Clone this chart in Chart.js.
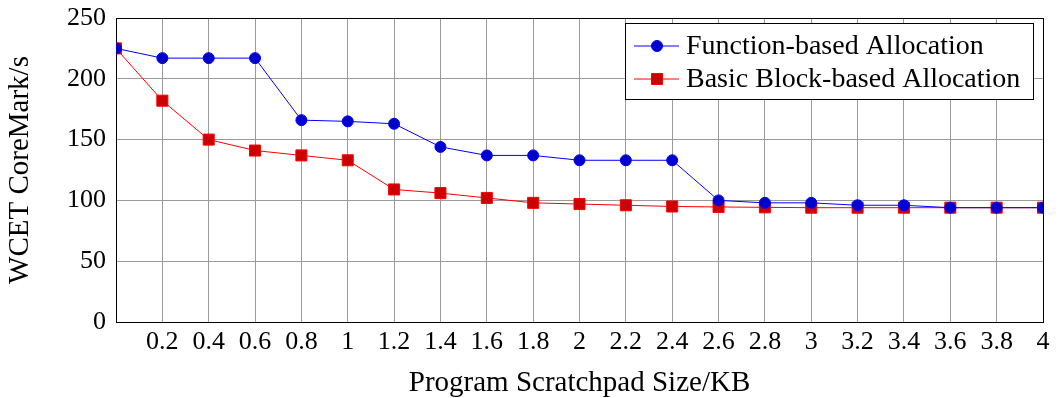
<!DOCTYPE html>
<html>
<head>
<meta charset="utf-8">
<script src="https://cdn.jsdelivr.net/npm/chart.js@4.4.1/dist/chart.umd.min.js"></script>
<style>
    body { margin: 0; background: #ffffff; }
</style>
</head>
<body>
<canvas id="wcetChart" width="1058" height="398"></canvas>
<script>
const sizes = [0, 0.2, 0.4, 0.6, 0.8, 1, 1.2, 1.4, 1.6, 1.8, 2, 2.2, 2.4, 2.6, 2.8, 3, 3.2, 3.4, 3.6, 3.8, 4];
const functionBased = [225, 217, 217, 217, 166, 165, 163, 144, 137, 137, 133, 133, 133, 100, 98, 98, 96, 96, 94, 94, 94];
const basicBlockBased = [225, 182, 150, 141, 137, 133, 109, 106, 102, 98, 97, 96, 95, 94.6, 94.3, 94, 94, 94, 94, 94, 94];
const seriesNames = ["Function-based Allocation", "Basic Block-based Allocation"];
const xTitle = "Program Scratchpad Size/KB";
const yTitle = "WCET CoreMark/s";

const serif = "'Liberation Serif', 'DejaVu Serif', serif";

function toPoints(values) {
    return values.map((v, i) => ({ x: sizes[i], y: v }));
}

// pgfplots style legend, drawn inside the top right corner of the axis
const insideLegend = {
    id: "insideLegend",
    afterDraw(chart) {
        const ctx = chart.ctx;
        const area = chart.chartArea;
        const boxW = 408, boxH = 76;
        const left = area.right - 10 - boxW;
        const top = area.top + 5;

        ctx.save();
        ctx.fillStyle = "#ffffff";
        ctx.fillRect(left, top, boxW, boxH);
        ctx.strokeStyle = "#000000";
        ctx.lineWidth = 1;
        ctx.strokeRect(left + 0.5, top + 0.5, boxW, boxH);

        chart.data.datasets.forEach((ds, i) => {
            const y = top + 23 + i * 33;
            ctx.strokeStyle = ds.borderColor;
            ctx.lineWidth = 1;
            ctx.beginPath();
            ctx.moveTo(left + 9, y);
            ctx.lineTo(left + 54, y);
            ctx.stroke();

            ctx.fillStyle = ds.pointBackgroundColor;
            ctx.strokeStyle = ds.pointBorderColor;
            Chart.helpers.drawPoint(ctx, {
                pointStyle: ds.pointStyle,
                radius: ds.pointRadius,
                borderWidth: 1
            }, left + 32, y);

            ctx.fillStyle = "#000000";
            ctx.font = "28px " + serif;
            ctx.textBaseline = "middle";
            ctx.fillText(ds.label, left + 61, y + 1);
        });
        ctx.restore();
    }
};

// full box around the plot area
const axisBox = {
    id: "axisBox",
    beforeDatasetsDraw(chart) {
        const a = chart.chartArea;
        const ctx = chart.ctx;
        ctx.save();
        ctx.strokeStyle = "#000000";
        ctx.lineWidth = 1;
        ctx.strokeRect(a.left + 0.5, a.top + 0.5, a.right - a.left, a.bottom - a.top);
        ctx.restore();
    }
};

const wcetChart = document.getElementById("wcetChart");

new Chart(wcetChart, {
    type: "line",
    data: {
        datasets: [{
            label: seriesNames[0],
            data: toPoints(functionBased),
            borderColor: "#0000ff",
            borderWidth: 1,
            pointStyle: "circle",
            pointRadius: 5.5,
            pointBackgroundColor: "#0000cc",
            pointBorderColor: "#0000ff",
            pointBorderWidth: 1
        }, {
            label: seriesNames[1],
            data: toPoints(basicBlockBased),
            borderColor: "#ff0000",
            borderWidth: 1,
            pointStyle: "rect",
            pointRadius: 7.8,
            pointBackgroundColor: "#cc0000",
            pointBorderColor: "#ff0000",
            pointBorderWidth: 1
        }]
    },
    options: {
        responsive: false,
        animation: false,
        layout: { padding: { top: 18, right: 15, left: 0, bottom: 0 } },
        plugins: {
            legend: { display: false },
            tooltip: { enabled: false }
        },
        scales: {
            x: {
                type: "linear",
                min: 0,
                max: 4,
                ticks: {
                    stepSize: 0.2,
                    color: "#000000",
                    font: { family: serif, size: 26 },
                    padding: 5,
                    maxRotation: 0,
                    autoSkip: false,
                    callback: (v) => (Math.abs(v) < 1e-9 ? "" : String(Number(v.toFixed(1))))
                },
                grid: { color: "#9a9a9a", tickLength: 0 },
                border: { color: "#000000" },
                title: {
                    display: true,
                    text: xTitle,
                    color: "#000000",
                    font: { family: serif, size: 29, lineHeight: 1 },
                    padding: 0
                },
                afterFit: (scale) => {
                    scale.height = 76;
                    scale.paddingLeft = 0;
                    scale.paddingRight = 0;
                }
            },
            y: {
                min: 0,
                max: 250,
                ticks: {
                    stepSize: 50,
                    color: "#000000",
                    font: { family: serif, size: 26 },
                    padding: 10
                },
                grid: { color: "#9a9a9a", tickLength: 0 },
                border: { color: "#000000" },
                title: {
                    display: true,
                    text: yTitle,
                    color: "#000000",
                    font: { family: serif, size: 29, lineHeight: 1 },
                    padding: 6
                },
                afterFit: (scale) => {
                    scale.width = 116;
                    scale.paddingTop = 0;
                    scale.paddingBottom = 0;
                }
            }
        }
    },
    plugins: [axisBox, insideLegend]
});
</script>
</body>
</html>
